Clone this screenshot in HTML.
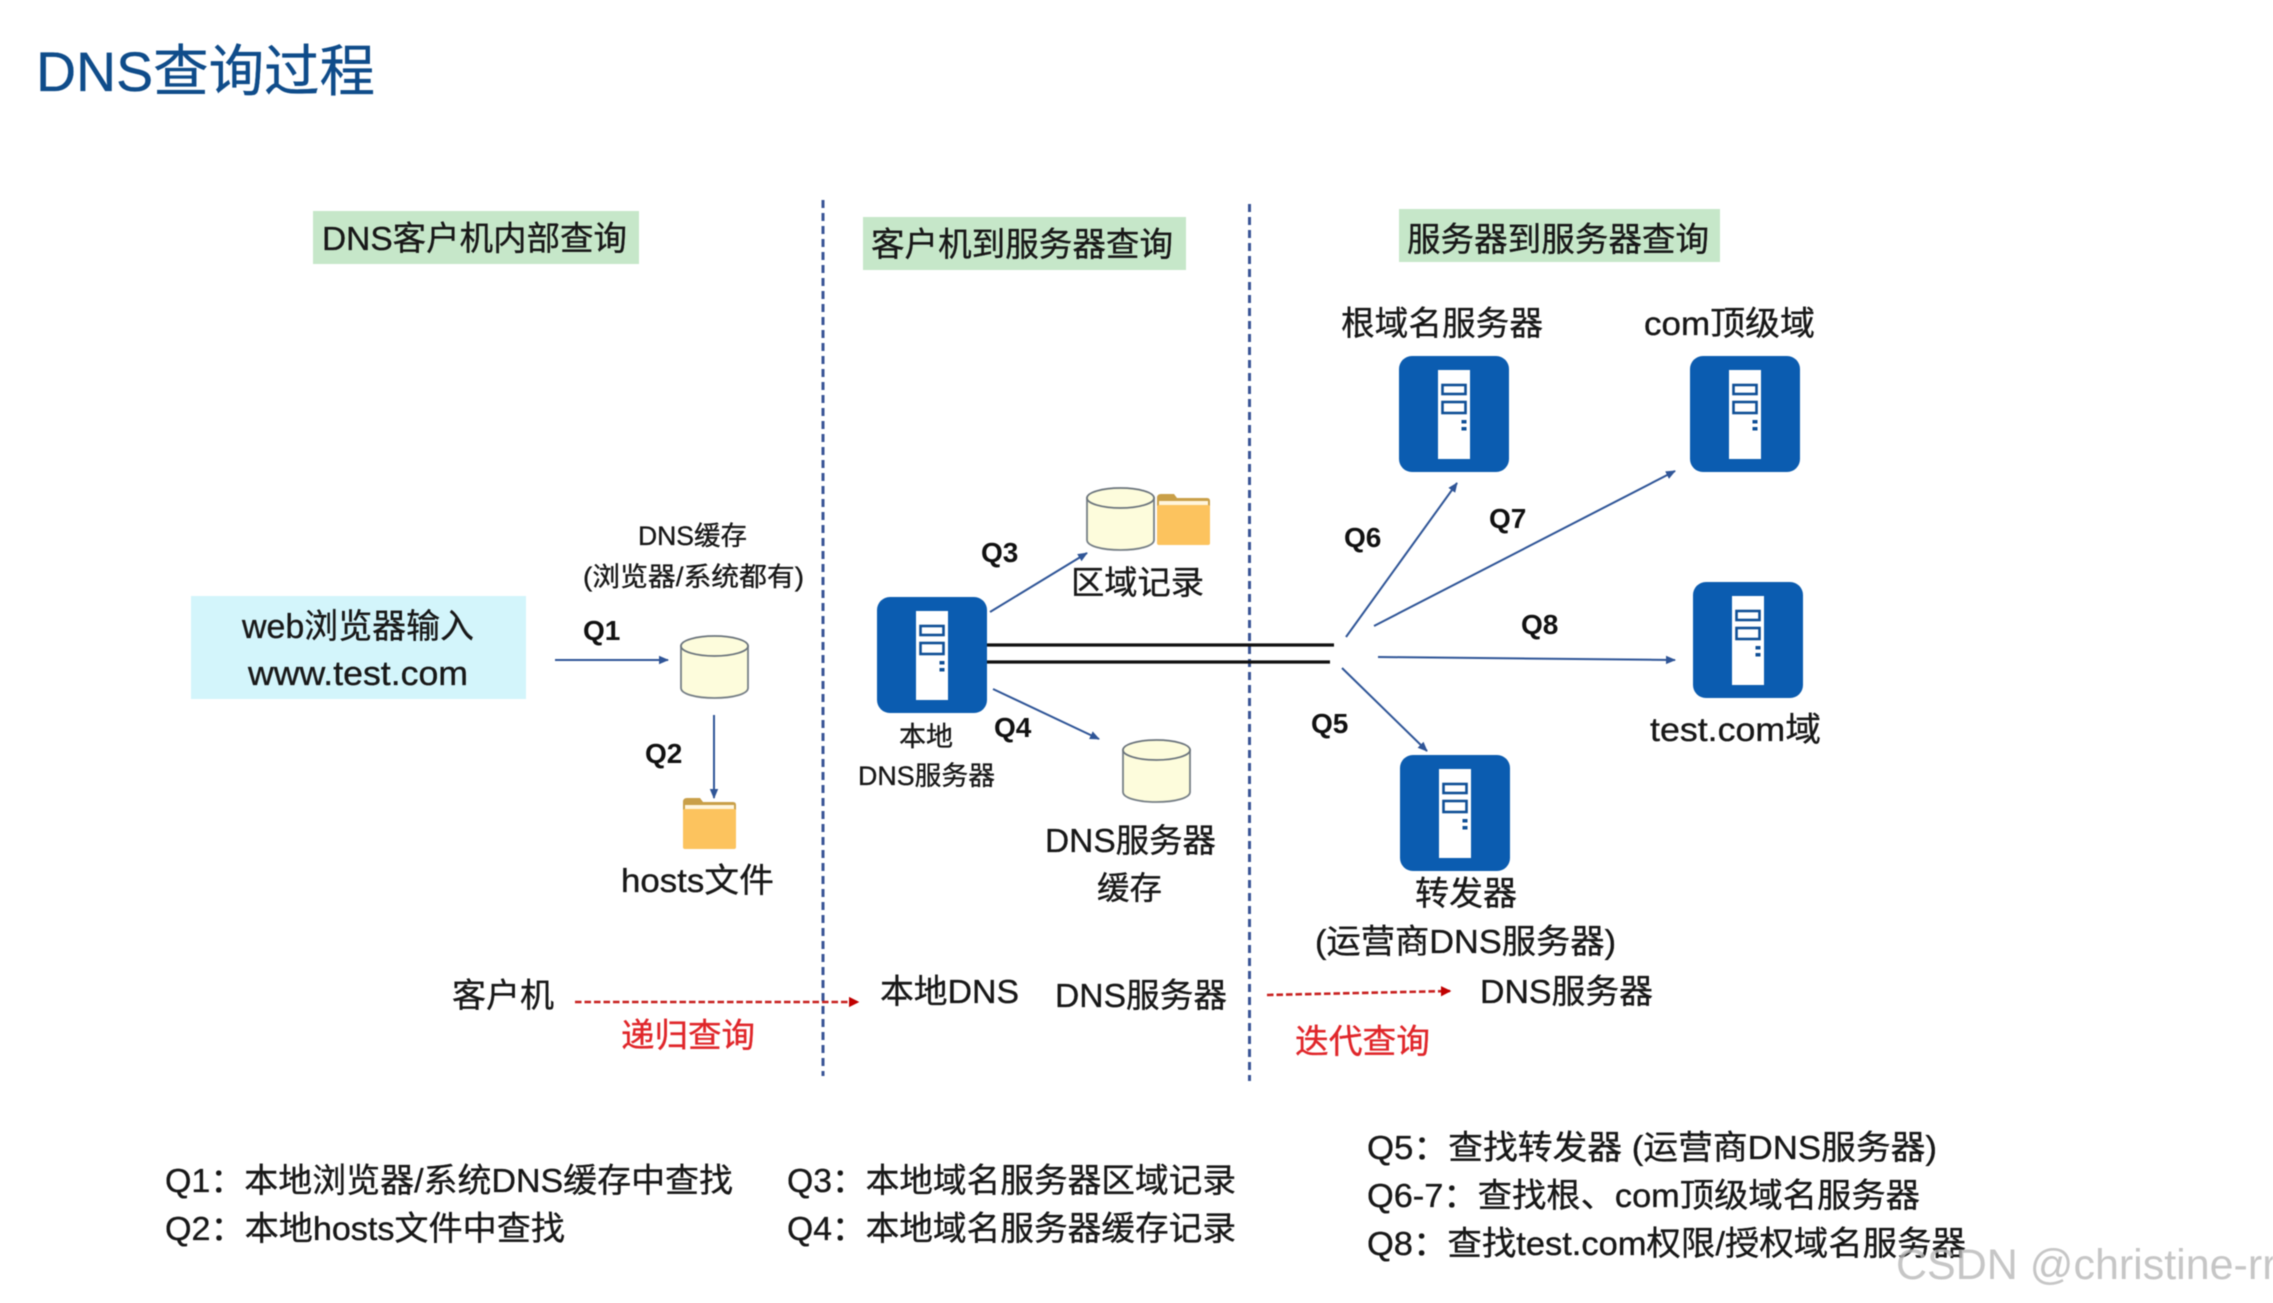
<!DOCTYPE html>
<html lang="zh-CN">
<head>
<meta charset="utf-8">
<title>DNS查询过程</title>
<style>
html,body{margin:0;padding:0;background:#fff;width:2273px;height:1303px;overflow:hidden}
svg{display:block;filter:blur(.6px)}
text{font-family:"Liberation Sans","Noto Sans CJK SC",sans-serif;fill:#181818;stroke:#181818;stroke-width:.35px}
.q{font-weight:700;font-size:28px;fill:#111;stroke:none}
.r{fill:#e0262a;stroke:#e0262a}
</style>
</head>
<body>
<svg width="2273" height="1303" viewBox="0 0 2273 1303" xmlns="http://www.w3.org/2000/svg">
<defs>
<marker id="a" markerWidth="5" markerHeight="5" refX="4.5" refY="2.5" orient="auto" markerUnits="strokeWidth"><path d="M0 .4L5 2.5L0 4.6Z" fill="#2f5597"/></marker>
<marker id="ar" markerWidth="4" markerHeight="4" refX="3.5" refY="2" orient="auto" markerUnits="strokeWidth"><path d="M0 0L4 2L0 4Z" fill="#c00000"/></marker>
<symbol id="srv" viewBox="0 0 110 116" width="110" height="116" overflow="visible">
<rect width="110" height="116" rx="13" fill="#0b5cb0"/>
<rect x="39" y="14" width="32" height="89" fill="#fff"/>
<rect x="43.5" y="29" width="23" height="9" fill="#fff" stroke="#0f4f96" stroke-width="2.6"/>
<rect x="43.5" y="46" width="23" height="11" fill="#fff" stroke="#0f4f96" stroke-width="2.6"/>
<rect x="62.5" y="64" width="5" height="3.5" fill="#0f4f96"/>
<rect x="62.5" y="71" width="5" height="3.5" fill="#0f4f96"/>
</symbol>
<symbol id="cyl" viewBox="0 0 69 64" width="69" height="64" overflow="visible">
<path d="M1 11V53C1 59 16 63 34.500 63S68 59 68 53V11Z" fill="#fdfcdc" stroke="#767f86" stroke-width="1.800"/>
<ellipse cx="34.500" cy="11" rx="33.500" ry="10" fill="#fdfcdc" stroke="#6b747c" stroke-width="1.800"/>
</symbol>
<symbol id="fld" viewBox="0 0 53 51" width="53" height="51" overflow="visible">
<path d="M0 4Q0 0 4 0H17L20 4H50Q53 4 53 7V12H0Z" fill="#c99f48"/>
<rect x="2" y="7" width="49" height="6" fill="#fff5dc"/>
<rect x="0" y="11" width="53" height="40" rx="2" fill="#fcc35e"/>
</symbol>
</defs>

<rect width="2273" height="1303" fill="#fff"/>

<!-- title -->
<text x="36" y="91" font-size="56" textLength="339" lengthAdjust="spacingAndGlyphs" style="fill:#0f4c8a;stroke:#0f4c8a">DNS查询过程</text>

<!-- section headers -->
<rect x="313" y="211" width="326" height="53" fill="#c6e7c9"/>
<text x="322" y="250" font-size="33.500" textLength="305" lengthAdjust="spacingAndGlyphs">DNS客户机内部查询</text>
<rect x="863" y="217" width="323" height="53" fill="#c6e7c9"/>
<text x="871" y="256" font-size="33.500" textLength="302" lengthAdjust="spacingAndGlyphs">客户机到服务器查询</text>
<rect x="1399" y="209" width="321" height="53" fill="#c6e7c9"/>
<text x="1407" y="251" font-size="33.500" textLength="302" lengthAdjust="spacingAndGlyphs">服务器到服务器查询</text>

<!-- vertical dashed dividers -->
<line x1="823" y1="200" x2="823" y2="1076" stroke="#3a5596" stroke-width="3" stroke-dasharray="8 5"/>
<line x1="1249.500" y1="204" x2="1249.500" y2="1081" stroke="#3a5596" stroke-width="3" stroke-dasharray="8 5"/>

<!-- left zone -->
<rect x="191" y="596" width="335" height="103" fill="#d3f5fb"/>
<text x="242" y="638" font-size="34" textLength="232" lengthAdjust="spacingAndGlyphs">web浏览器输入</text>
<text x="248" y="685" font-size="34" textLength="220" lengthAdjust="spacingAndGlyphs">www.test.com</text>
<text x="638" y="545" font-size="26.500" textLength="109" lengthAdjust="spacingAndGlyphs">DNS缓存</text>
<text x="583" y="586" font-size="26.500" textLength="221" lengthAdjust="spacingAndGlyphs">(浏览器/系统都有)</text>
<text class="q" x="583" y="640">Q1</text>
<line x1="555" y1="660" x2="668" y2="660" stroke="#2f5597" stroke-width="2" marker-end="url(#a)"/>
<use href="#cyl" x="680" y="635"/>
<text class="q" x="645" y="763">Q2</text>
<line x1="714" y1="715" x2="714" y2="798" stroke="#2f5597" stroke-width="2" marker-end="url(#a)"/>
<use href="#fld" x="683" y="798"/>
<text x="621" y="892" font-size="33.500" textLength="153" lengthAdjust="spacingAndGlyphs">hosts文件</text>

<!-- middle zone -->
<use href="#srv" x="877" y="597"/>
<use href="#cyl" x="1086" y="487"/>
<use href="#fld" x="1157" y="494"/>
<text x="1071" y="594" font-size="33" textLength="133" lengthAdjust="spacingAndGlyphs">区域记录</text>
<text class="q" x="981" y="562">Q3</text>
<text class="q" x="994" y="737">Q4</text>
<line x1="990" y1="612" x2="1087" y2="553" stroke="#2f5597" stroke-width="2" marker-end="url(#a)"/>
<line x1="993" y1="689" x2="1099" y2="739" stroke="#2f5597" stroke-width="2" marker-end="url(#a)"/>
<text x="899" y="746" font-size="27" textLength="54" lengthAdjust="spacingAndGlyphs">本地</text>
<text x="858" y="785" font-size="26.600" textLength="137" lengthAdjust="spacingAndGlyphs">DNS服务器</text>
<use href="#cyl" x="1122" y="739"/>
<text x="1045" y="852" font-size="33" textLength="171" lengthAdjust="spacingAndGlyphs">DNS服务器</text>
<text x="1097" y="899" font-size="32" textLength="65" lengthAdjust="spacingAndGlyphs">缓存</text>

<!-- trunk lines -->
<line x1="987" y1="645" x2="1334" y2="645" stroke="#111" stroke-width="3.200"/>
<line x1="987" y1="662" x2="1330" y2="662" stroke="#111" stroke-width="3.200"/>

<!-- right zone -->
<text x="1341" y="335" font-size="33.300" textLength="202" lengthAdjust="spacingAndGlyphs">根域名服务器</text>
<text x="1644" y="335" font-size="33.300" textLength="171" lengthAdjust="spacingAndGlyphs">com顶级域</text>
<use href="#srv" x="1399" y="356"/>
<use href="#srv" x="1690" y="356"/>
<use href="#srv" x="1693" y="582"/>
<use href="#srv" x="1400" y="755"/>
<text class="q" x="1344" y="547">Q6</text>
<text class="q" x="1489" y="528">Q7</text>
<text class="q" x="1521" y="634">Q8</text>
<text class="q" x="1311" y="733">Q5</text>
<line x1="1346" y1="637" x2="1457" y2="483" stroke="#2f5597" stroke-width="2" marker-end="url(#a)"/>
<line x1="1374" y1="626" x2="1675" y2="471" stroke="#2f5597" stroke-width="2" marker-end="url(#a)"/>
<line x1="1378" y1="657" x2="1675" y2="660" stroke="#2f5597" stroke-width="2" marker-end="url(#a)"/>
<line x1="1342" y1="668" x2="1427" y2="751" stroke="#2f5597" stroke-width="2" marker-end="url(#a)"/>
<text x="1650" y="741" font-size="33.500" textLength="171" lengthAdjust="spacingAndGlyphs">test.com域</text>
<text x="1415" y="905" font-size="33.500" textLength="102" lengthAdjust="spacingAndGlyphs">转发器</text>
<text x="1315" y="953" font-size="33.500" textLength="301" lengthAdjust="spacingAndGlyphs">(运营商DNS服务器)</text>

<!-- recursive / iterative row -->
<text x="452" y="1007" font-size="33.500" textLength="102" lengthAdjust="spacingAndGlyphs">客户机</text>
<line x1="575" y1="1002" x2="858" y2="1002" stroke="#c8201f" stroke-width="2.600" stroke-dasharray="6.500 3" marker-end="url(#ar)"/>
<text class="r" x="621" y="1047" font-size="33.500" textLength="134" lengthAdjust="spacingAndGlyphs">递归查询</text>
<text x="880" y="1003" font-size="33.500" textLength="139" lengthAdjust="spacingAndGlyphs">本地DNS</text>
<text x="1055" y="1007" font-size="33.500" textLength="172" lengthAdjust="spacingAndGlyphs">DNS服务器</text>
<line x1="1267" y1="995" x2="1450" y2="991" stroke="#c8201f" stroke-width="2.600" stroke-dasharray="6.500 3" marker-end="url(#ar)"/>
<text x="1480" y="1003" font-size="33.500" textLength="173" lengthAdjust="spacingAndGlyphs">DNS服务器</text>
<text class="r" x="1295" y="1053" font-size="33.500" textLength="135" lengthAdjust="spacingAndGlyphs">迭代查询</text>

<!-- legend -->
<text x="165" y="1192" font-size="33.500" textLength="568" lengthAdjust="spacingAndGlyphs">Q1：本地浏览器/系统DNS缓存中查找</text>
<text x="165" y="1240" font-size="33.500" textLength="400" lengthAdjust="spacingAndGlyphs">Q2：本地hosts文件中查找</text>
<text x="787" y="1192" font-size="33.500" textLength="449" lengthAdjust="spacingAndGlyphs">Q3：本地域名服务器区域记录</text>
<text x="787" y="1240" font-size="33.500" textLength="449" lengthAdjust="spacingAndGlyphs">Q4：本地域名服务器缓存记录</text>
<text x="1367" y="1159" font-size="33.500" textLength="570" lengthAdjust="spacingAndGlyphs">Q5：查找转发器 (运营商DNS服务器)</text>
<text x="1367" y="1207" font-size="33.500" textLength="553" lengthAdjust="spacingAndGlyphs">Q6-7：查找根、com顶级域名服务器</text>
<text x="1367" y="1255" font-size="33.500" textLength="599" lengthAdjust="spacingAndGlyphs">Q8：查找test.com权限/授权域名服务器</text>

<!-- watermark -->
<text x="1896" y="1279" font-size="43" style="fill:#b8b8b8;stroke:none" fill-opacity=".8">CSDN @christine-rr</text>
</svg>
</body>
</html>
